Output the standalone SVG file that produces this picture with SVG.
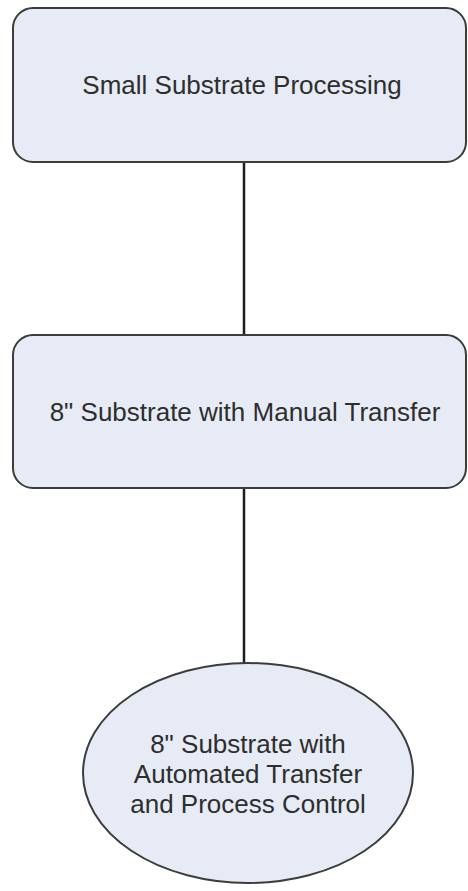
<svg xmlns="http://www.w3.org/2000/svg" width="468" height="891" viewBox="0 0 468 891">
<style>
.node{fill:#e6ebf5;stroke:#3c3c3c;stroke-width:2}
.lbl{font-family:"Liberation Sans",Arial,sans-serif;font-size:26px;fill:#2e2e2e;text-anchor:middle}
.conn{stroke:#1e1e1e;stroke-width:2.5;fill:none}
</style>
<rect width="468" height="891" fill="#fff"/>
<g id="connectors">
<line class="conn" x1="244" y1="162" x2="244" y2="335"/>
<line class="conn" x1="244" y1="488" x2="244" y2="663"/>
</g>
<g id="node1">
<rect class="node" x="13" y="8" width="453" height="154" rx="20" ry="20"/>
<text class="lbl" x="242" y="94">Small Substrate Processing</text>
</g>
<g id="node2">
<rect class="node" x="13" y="335" width="453" height="153" rx="20" ry="20"/>
<text class="lbl" x="245" y="421">8" Substrate with Manual Transfer</text>
</g>
<g id="node3">
<ellipse class="node" cx="248" cy="773" rx="165" ry="110"/>
<text class="lbl" x="248" y="753">8" Substrate with</text>
<text class="lbl" x="248" y="783">Automated Transfer</text>
<text class="lbl" x="248" y="813">and Process Control</text>
</g>
</svg>
